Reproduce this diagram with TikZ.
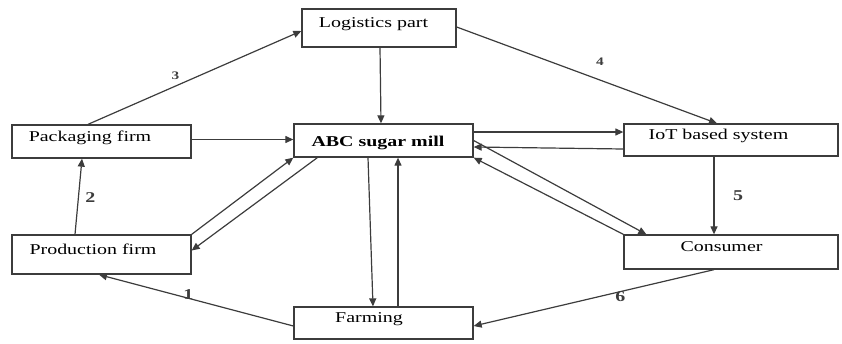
\documentclass[tikz,border=0pt]{standalone}
\usepackage{fontspec}
\setmainfont{Liberation Serif}[FakeStretch=1.33]
\usetikzlibrary{arrows.meta, calc}
\definecolor{charcoal}{RGB}{60, 60, 60}

\begin{document}
\begin{tikzpicture}[x=1pt, y=-1pt,
            box/.style={draw=charcoal, line width=1.3pt, inner sep=0pt, text height=11pt, text depth=11.5pt, font=\fontsize{15}{18}\selectfont},
            arrow/.style={-{Triangle[length=8pt, width=7pt]}, line width=1.2pt, charcoal},
            numbig/.style={font=\fontsize{15}{18}\selectfont\bfseries},
            numsmall/.style={font=\fontsize{11.5}{13}\selectfont\bfseries}
        ]
            \useasboundingbox (0,0) rectangle (842,343);

            \node[box, minimum width=154pt, minimum height=38pt] (logistics) at (379,28) {Logistics part\hspace*{11pt}};
            \node[box, minimum width=179pt, minimum height=33pt] (packaging) at (101.5,141.5) {Packaging firm\hspace*{23pt}};
            \node[box, minimum width=179pt, minimum height=33pt, text height=16pt, text depth=3.5pt, font=\fontsize{15}{18}\selectfont\bfseries] (abc) at (383.5,140.5) {ABC sugar mill\hspace*{11pt}};
            \node[box, minimum width=214pt, minimum height=32pt] (iot) at (731,140) {IoT based system\hspace*{25pt}};
            \node[box, minimum width=179pt, minimum height=39pt] (production) at (101.5,254.5) {Production firm\hspace*{17pt}};
            \node[box, minimum width=214pt, minimum height=34pt] (consumer) at (731,252) {Consumer\hspace*{19pt}};
            \node[box, minimum width=179pt, minimum height=32pt] (farming) at (383.5,323) {Farming\hspace*{29pt}};

            \draw[arrow] ([xshift=1pt]logistics.south) -- ([xshift=-2.5pt]abc.north);
            \draw[arrow] ([xshift=-13.5pt]packaging.north) -- node[numsmall, pos=0.41, yshift=10pt] (n3) {3} ([yshift=-3pt]logistics.west);
            \draw[arrow] ([yshift=1pt]logistics.east) -- node[numsmall, pos=0.55, yshift=18pt] (n4) {4} ([xshift=-14pt]iot.north);
            \draw[arrow] ([yshift=2pt]packaging.east) -- ([yshift=1pt]abc.west);
            \draw[arrow] ([yshift=8.5pt]abc.east) -- ([yshift=8pt]iot.west);
            \draw[arrow] ([yshift=-9pt]iot.west) -- ([yshift=-6.5pt]abc.east);
            \draw[arrow] ([xshift=-17pt]iot.south) -- node[numbig, pos=0.50, xshift=24pt] (n5) {5} ([xshift=-17pt]consumer.north);
            \draw[arrow] ([xshift=-26.5pt]production.north) -- node[numbig, pos=0.49, xshift=12pt] (n2) {2} ([xshift=-19.5pt]packaging.south);
            \draw[arrow] (production.north east) -- (abc.south west);
            \draw[arrow] ([xshift=24pt]abc.south west) -- ([yshift=4pt]production.east);
            \draw[arrow] ([xshift=-15.5pt]abc.south) -- ([xshift=-10.5pt]farming.north);
            \draw[arrow] ([xshift=14.5pt]farming.north) -- ([xshift=14.5pt]abc.south);
            \draw[arrow] (consumer.north west) -- (abc.south east);
            \draw[arrow] (abc.east) -- ([xshift=23pt]consumer.north west);
            \draw[arrow] ([yshift=-3pt]farming.west) -- node[numbig, pos=0.54, yshift=3.5pt] (n1) {1} ([xshift=-2.5pt]production.south);
            \draw[arrow] ([xshift=-17pt]consumer.south) -- node[numbig, pos=0.39, yshift=-5pt] (n6) {6} ([yshift=-3pt]farming.east);
        \end{tikzpicture}
\end{document}
